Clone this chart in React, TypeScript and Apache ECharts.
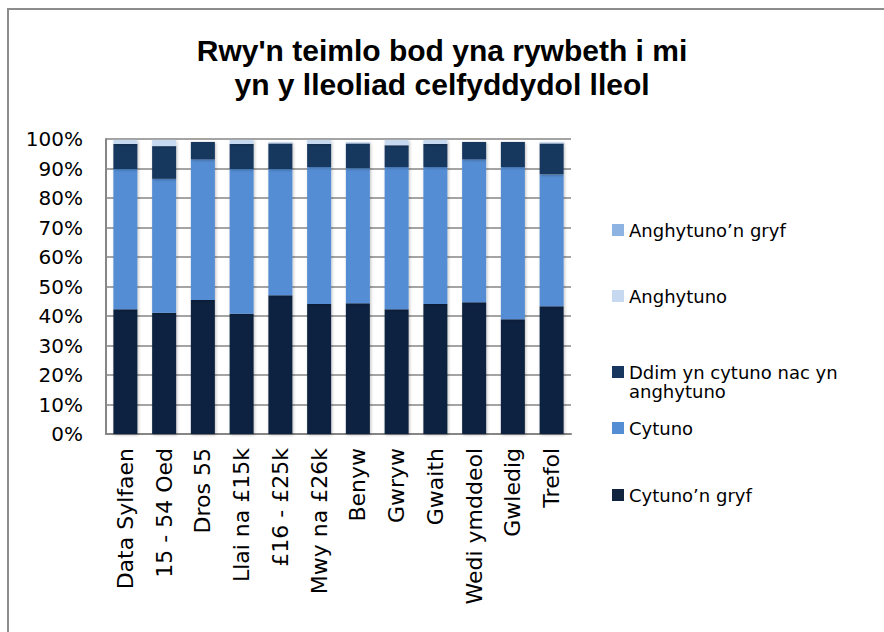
import React, { useEffect, useRef } from "react";
import * as echarts from "echarts";

const categories = [
  "Data Sylfaen",
  "15 - 54 Oed",
  "Dros 55",
  "Llai na £15k",
  "£16 - £25k",
  "Mwy na £26k",
  "Benyw",
  "Gwryw",
  "Gwaith",
  "Wedi ymddeol",
  "Gwledig",
  "Trefol",
];

const cytunoGryf = [42.3, 41.1, 45.4, 40.8, 47.0, 44.1, 44.3, 42.3, 44.1, 44.7, 38.9, 43.3];
const cytuno = [47.5, 45.4, 47.7, 49.0, 42.8, 46.4, 45.8, 48.2, 46.4, 48.4, 51.6, 44.7];
const ddim = [8.5, 11.1, 5.9, 8.5, 8.7, 7.8, 8.4, 7.4, 7.8, 5.9, 8.5, 10.5];
const anghytuno = [1.4, 2.1, 0, 1.4, 0.5, 1.4, 0.5, 1.8, 1.4, 0, 0, 0.5];
const anghytunoGryf = [0, 0, 0, 0, 0, 0, 0, 0, 0, 0, 0, 0];

const yTicks = [0, 10, 20, 30, 40, 50, 60, 70, 80, 90, 100];

const seriesNames = [
  "Cytuno’n gryf",
  "Cytuno",
  "Ddim yn cytuno nac yn anghytuno",
  "Anghytuno",
  "Anghytuno’n gryf",
];
const seriesData = [cytunoGryf, cytuno, ddim, anghytuno, anghytunoGryf];
const seriesColors = ["#10243F", "#548DD4", "#17375E", "#C6D9F1", "#8DB3E2"];

const FONT = "DejaVu Sans";

export default function App() {
  const ref = useRef<HTMLDivElement>(null);

  useEffect(() => {
    if (!ref.current) return;
    const chart = echarts.init(ref.current, undefined, { renderer: "svg" });

    const legendSpecs = [
      { name: seriesNames[4], center: 230 },
      { name: seriesNames[3], center: 296 },
      { name: seriesNames[2], center: 372, multi: true },
      { name: seriesNames[1], center: 428 },
      { name: seriesNames[0], center: 495 },
    ];

    const legends = legendSpecs.map((l) => ({
      show: true,
      data: [l.name],
      orient: "vertical",
      left: 612,
      top: l.multi ? l.center - 28.5 : l.center - 9.5,
      padding: 0,
      itemWidth: 12,
      itemHeight: 12,
      icon: "rect",
      selectedMode: false,
      formatter: l.multi ? () => "\nDdim yn cytuno nac yn\nanghytuno" : undefined,
      textStyle: {
        fontFamily: FONT,
        fontSize: 18,
        lineHeight: 19,
        color: "#000000",
      },
    }));

    chart.setOption({
      animation: false,
      backgroundColor: "#ffffff",
      title: {
        text: "Rwy'n teimlo bod yna rywbeth i mi\nyn y lleoliad celfyddydol lleol",
        left: "center",
        top: 33,
        padding: 0,
        textStyle: {
          fontFamily: "Liberation Sans",
          fontWeight: "bold",
          fontSize: 30,
          lineHeight: 34,
          color: "#000000",
        },
      },
      legend: legends,
      graphic: [
        {
          type: "rect",
          shape: { x: 8, y: 9, width: 900, height: 700 },
          style: { fill: "none", stroke: "#8c8c8c", lineWidth: 2 },
          silent: true,
        },
      ],
      grid: { left: 106, right: 313, top: 139, bottom: 198, containLabel: false },
      xAxis: {
        type: "category",
        data: categories,
        axisLine: { show: true, lineStyle: { color: "#868686", width: 2 } },
        axisTick: { show: false },
        axisLabel: {
          rotate: 90,
          margin: 14,
          interval: 0,
          fontFamily: FONT,
          fontSize: 22,
          color: "#000000",
        },
      },
      yAxis: {
        type: "value",
        min: yTicks[0],
        max: yTicks[yTicks.length - 1],
        interval: 10,
        axisLine: { show: true, lineStyle: { color: "#868686", width: 2 } },
        axisTick: { show: false },
        splitLine: { show: true, lineStyle: { color: "#868686", width: 1.5 } },
        axisLabel: {
          margin: 23,
          fontFamily: FONT,
          fontSize: 20,
          color: "#000000",
          formatter: "{value}%",
        },
      },
      series: seriesNames.map((name, i) => ({
        name,
        type: "bar",
        stack: "total",
        barWidth: 24,
        data: seriesData[i],
        itemStyle: {
          color: seriesColors[i],
          shadowColor: "rgba(0,0,0,0.25)",
          shadowBlur: 3,
          shadowOffsetX: 1,
          shadowOffsetY: 1,
        },
      })),
    });

    return () => {
      chart.dispose();
    };
  }, []);

  return (
    <div
      ref={ref}
      style={{ position: "absolute", left: 0, top: 0, width: 884, height: 632 }}
    />
  );
}
